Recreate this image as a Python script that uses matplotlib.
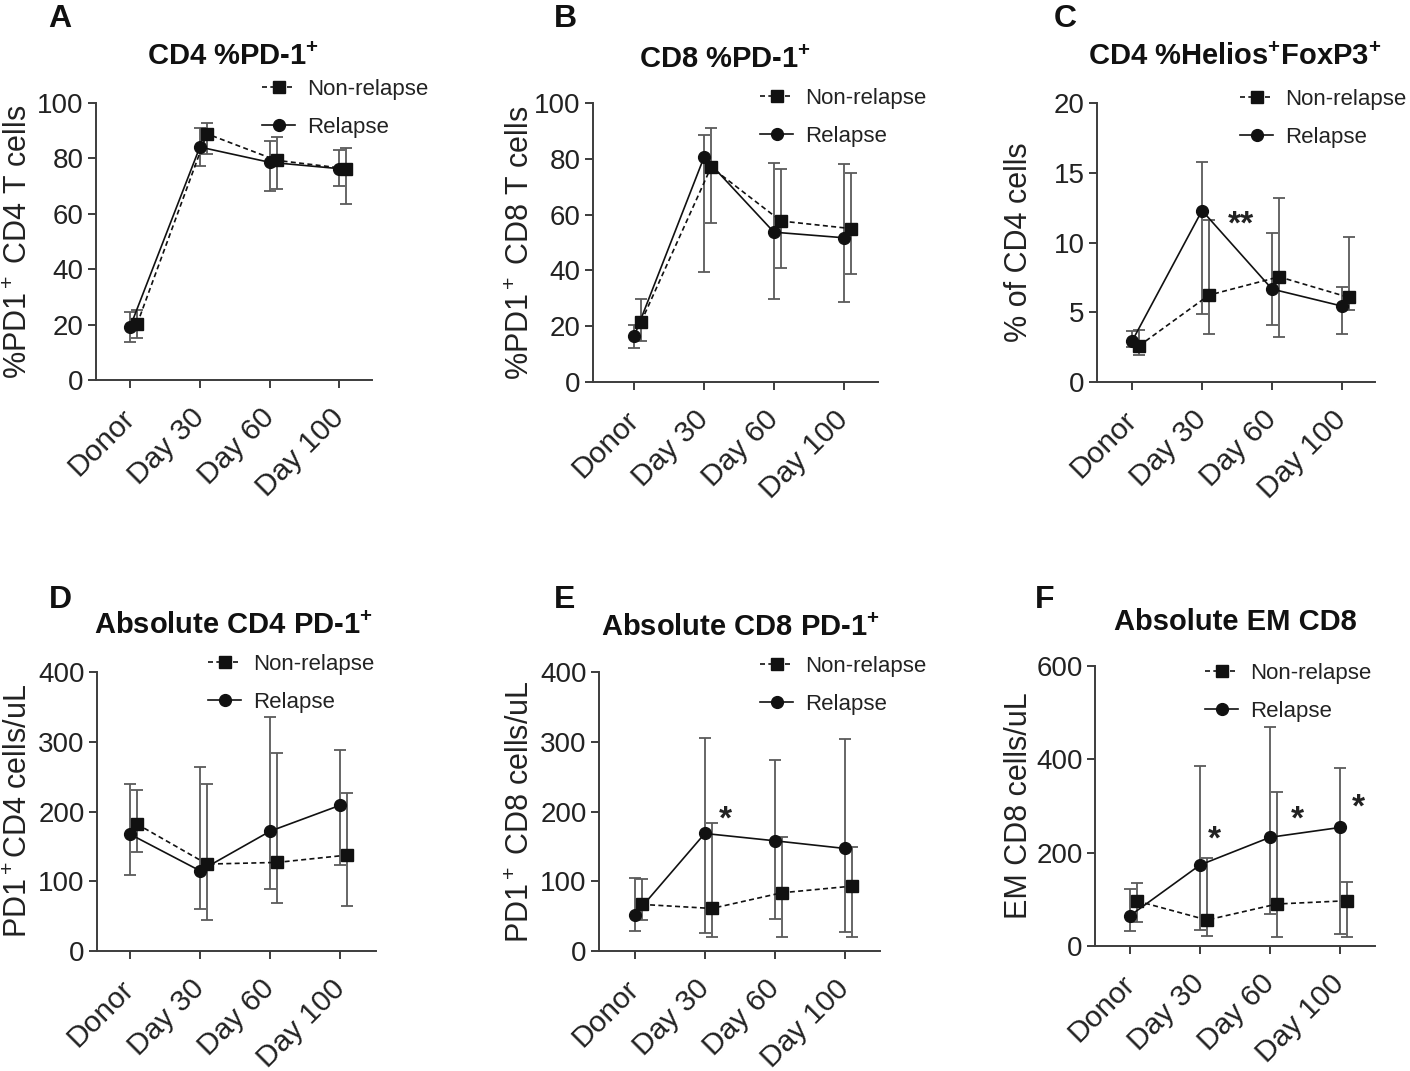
import matplotlib
matplotlib.use('Agg')
from matplotlib import pyplot as plt
from matplotlib.transforms import ScaledTranslation
import numpy as np

plt.rcParams['font.family'] = ['Liberation Sans', 'DejaVu Sans']
plt.rcParams['mathtext.fontset'] = 'custom'
plt.rcParams['mathtext.rm'] = 'Liberation Sans'
plt.rcParams['mathtext.bf'] = 'Liberation Sans:bold'
plt.rcParams['mathtext.it'] = 'Liberation Sans:italic'

days = ['Donor', 'Day 30', 'Day 60', 'Day 100']

# A: CD4 %PD-1+
a_rel = [19.2, 84.1, 78.6, 76.3]
a_rel_hi = [24.4, 91.0, 86.3, 83.2]
a_rel_lo = [13.6, 77.2, 68.3, 70.0]
a_non = [20.2, 88.9, 79.3, 76.3]
a_non_hi = [25.2, 92.9, 87.7, 83.9]
a_non_lo = [15.0, 81.7, 69.0, 63.7]

# B: CD8 %PD-1+
b_rel = [16.4, 80.6, 53.7, 51.7]
b_rel_hi = [20.4, 88.6, 78.4, 78.2]
b_rel_lo = [12.2, 39.3, 29.8, 28.5]
b_non = [21.6, 77.0, 57.7, 55.0]
b_non_hi = [29.6, 91.0, 76.5, 74.9]
b_non_lo = [14.7, 57.1, 40.8, 38.8]

# C: CD4 %Helios+FoxP3+
c_rel = [2.92, 12.29, 6.66, 5.44]
c_rel_hi = [3.66, 15.8, 10.66, 6.83]
c_rel_lo = [2.5, 4.9, 4.07, 3.47]
c_non = [2.59, 6.23, 7.54, 6.06]
c_non_hi = [3.7, 11.6, 13.2, 10.4]
c_non_lo = [1.92, 3.43, 3.19, 5.15]

# D: absolute CD4 PD-1+
d_rel = [167.5, 115, 171.8, 209]
d_rel_hi = [240, 264, 335.6, 287.8]
d_rel_lo = [108.8, 59.7, 88.3, 124]
d_non = [182, 124.6, 127, 137.5]
d_non_hi = [230.5, 240, 284, 227]
d_non_lo = [142, 44.4, 69.2, 64.4]

# E: absolute CD8 PD-1+
e_rel = [51.6, 168.5, 158, 147]
e_rel_hi = [104, 306, 273.5, 304.5]
e_rel_lo = [28.6, 26.3, 46.3, 27.7]
e_non = [66.8, 61, 83.5, 93]
e_non_hi = [102.6, 183.8, 163.7, 148.4]
e_non_lo = [44.4, 19.6, 20.5, 20.5]

# F: absolute EM CD8
f_rel = [65, 173.6, 232.9, 254]
f_rel_hi = [121.4, 386, 470, 380.7]
f_rel_lo = [32, 34.3, 68.6, 25]
f_non = [96.4, 55.7, 90, 97]
f_non_hi = [134, 187.9, 330.7, 137.9]
f_non_lo = [52, 21.4, 18.6, 18.6]

# significance marks (x position in category units, y in data units)
c_stars = [(1.56, 11.8, '**')]
e_stars = [(1.3, 199, '*')]
f_stars = [(1.21, 244, '*'), (2.39, 287, '*'), (3.26, 313, '*')]

W, H = 1410, 1071
fig = plt.figure(figsize=(W / 100, H / 100), dpi=100)

AX = '#3c3c3c'
ERR = '#5a5a5a'


def fx(px):
    return px / W


def fy(py):
    return 1 - py / H


def panel(box, xlim, ymax, yticks, data, ylabel, ylab_x, title, title_xy,
          letter, letter_xy, leg_xy, stars):
    left, right, y0, ytop = box
    ax = fig.add_axes([fx(left), fy(y0), fx(right - left), (y0 - ytop) / H])
    rel, rel_hi, rel_lo, non, non_hi, non_lo = [np.array(v, float) for v in data]
    x = np.arange(len(days))
    xn = x + 0.1
    ax.errorbar(x, rel, yerr=[rel - rel_lo, rel_hi - rel], fmt='none',
                ecolor=ERR, elinewidth=1.3, capsize=4.5, capthick=1.3, zorder=2)
    ax.errorbar(xn, non, yerr=[non - non_lo, non_hi - non], fmt='none',
                ecolor=ERR, elinewidth=1.3, capsize=4.5, capthick=1.3, zorder=2)
    ax.plot(xn, non, ls=(0, (3, 2)), lw=1.2, color='#111111', marker='s',
            ms=8.5, mfc='#111111', mec='#111111', label='Non-relapse', zorder=3)
    ax.plot(x, rel, ls='-', lw=1.2, color='#111111', marker='o',
            ms=8.5, mfc='#111111', mec='#111111', label='Relapse', zorder=3)
    for sx, sy, s in stars:
        ax.annotate(s, xy=(sx, sy), xytext=(0, -12), textcoords='offset points',
                    ha='center', va='baseline', fontsize=24, fontweight='bold',
                    color='#222222')
    ax.set_xlim(*xlim)
    ax.set_ylim(0, ymax)
    ax.set_xticks(x)
    ax.set_xticklabels(days, rotation=45, ha='right', va='center',
                       rotation_mode='anchor', fontsize=21.5, color='#222222')
    shift = ScaledTranslation(-5 / 100, 0, fig.dpi_scale_trans)
    for lbl in ax.get_xticklabels():
        lbl.set_transform(lbl.get_transform() + shift)
    ax.set_yticks(yticks)
    ax.set_yticklabels([str(t) for t in yticks], fontsize=20, color='#222222')
    ax.tick_params(axis='both', length=6, width=1.4, color=AX)
    ax.tick_params(axis='x', pad=18)
    ax.tick_params(axis='y', pad=3)
    for s in ['top', 'right']:
        ax.spines[s].set_visible(False)
    for s in ['left', 'bottom']:
        ax.spines[s].set_color(AX)
        ax.spines[s].set_linewidth(1.4)
    ax.spines['left'].set_zorder(0)
    fig.text(fx(ylab_x), fy((y0 + ytop) / 2), ylabel, rotation=90, ha='center',
             va='center', fontsize=22, color='#222222')
    fig.text(fx(title_xy[0]), fy(title_xy[1]), title, ha='center', va='baseline',
             fontsize=21, fontweight='bold', color='#111111')
    fig.text(fx(letter_xy[0]), fy(letter_xy[1]), letter, ha='center', va='baseline',
             fontsize=23, fontweight='bold', color='#111111')
    ax.legend(loc='upper left', bbox_to_anchor=(fx(leg_xy[0]), fy(leg_xy[1])),
              bbox_transform=fig.transFigure, frameon=False, fontsize=16,
              borderpad=0, borderaxespad=0, handlelength=1.5, handletextpad=0.55,
              labelspacing=0.75, labelcolor='#222222')
    return ax


panel((96, 372, 380, 103), (-0.49, 3.47), 100, [0, 20, 40, 60, 80, 100],
      [a_rel, a_rel_hi, a_rel_lo, a_non, a_non_hi, a_non_lo],
      r'%PD1$^+$ CD4 T cells', 19, r'CD4 %PD-1$^\mathbf{+}$', (233, 65),
      'A', (60, 27), (262, 79), [])

panel((593, 878, 382, 103), (-0.59, 3.49), 100, [0, 20, 40, 60, 80, 100],
      [b_rel, b_rel_hi, b_rel_lo, b_non, b_non_hi, b_non_lo],
      r'%PD1$^+$ CD8 T cells', 521, r'CD8 %PD-1$^\mathbf{+}$', (725, 68),
      'B', (565, 27), (760, 88), [])

panel((1097, 1375, 382, 103), (-0.5, 3.47), 20, [0, 5, 10, 15, 20],
      [c_rel, c_rel_hi, c_rel_lo, c_non, c_non_hi, c_non_lo],
      '% of CD4 cells', 1019, r'CD4 %Helios$^\mathbf{+}$FoxP3$^\mathbf{+}$', (1235, 65),
      'C', (1065, 27), (1240, 89), c_stars)

panel((97, 376, 951, 672), (-0.47, 3.51), 400, [0, 100, 200, 300, 400],
      [d_rel, d_rel_hi, d_rel_lo, d_non, d_non_hi, d_non_lo],
      r'PD1$^+$CD4 cells/uL', 19, r'Absolute CD4 PD-1$^\mathbf{+}$', (233, 634),
      'D', (60, 608), (208, 654), [])

panel((599, 880, 951, 672), (-0.51, 3.5), 400, [0, 100, 200, 300, 400],
      [e_rel, e_rel_hi, e_rel_lo, e_non, e_non_hi, e_non_lo],
      r'PD1$^+$ CD8 cells/uL', 521, r'Absolute CD8 PD-1$^\mathbf{+}$', (740, 636),
      'E', (565, 608), (760, 656), e_stars)

panel((1095, 1375, 946, 666), (-0.5, 3.5), 600, [0, 200, 400, 600],
      [f_rel, f_rel_hi, f_rel_lo, f_non, f_non_hi, f_non_lo],
      'EM CD8 cells/uL', 1019, 'Absolute EM CD8', (1235, 630),
      'F', (1045, 608), (1205, 663), f_stars)

fig.savefig('out.png', dpi=100)
